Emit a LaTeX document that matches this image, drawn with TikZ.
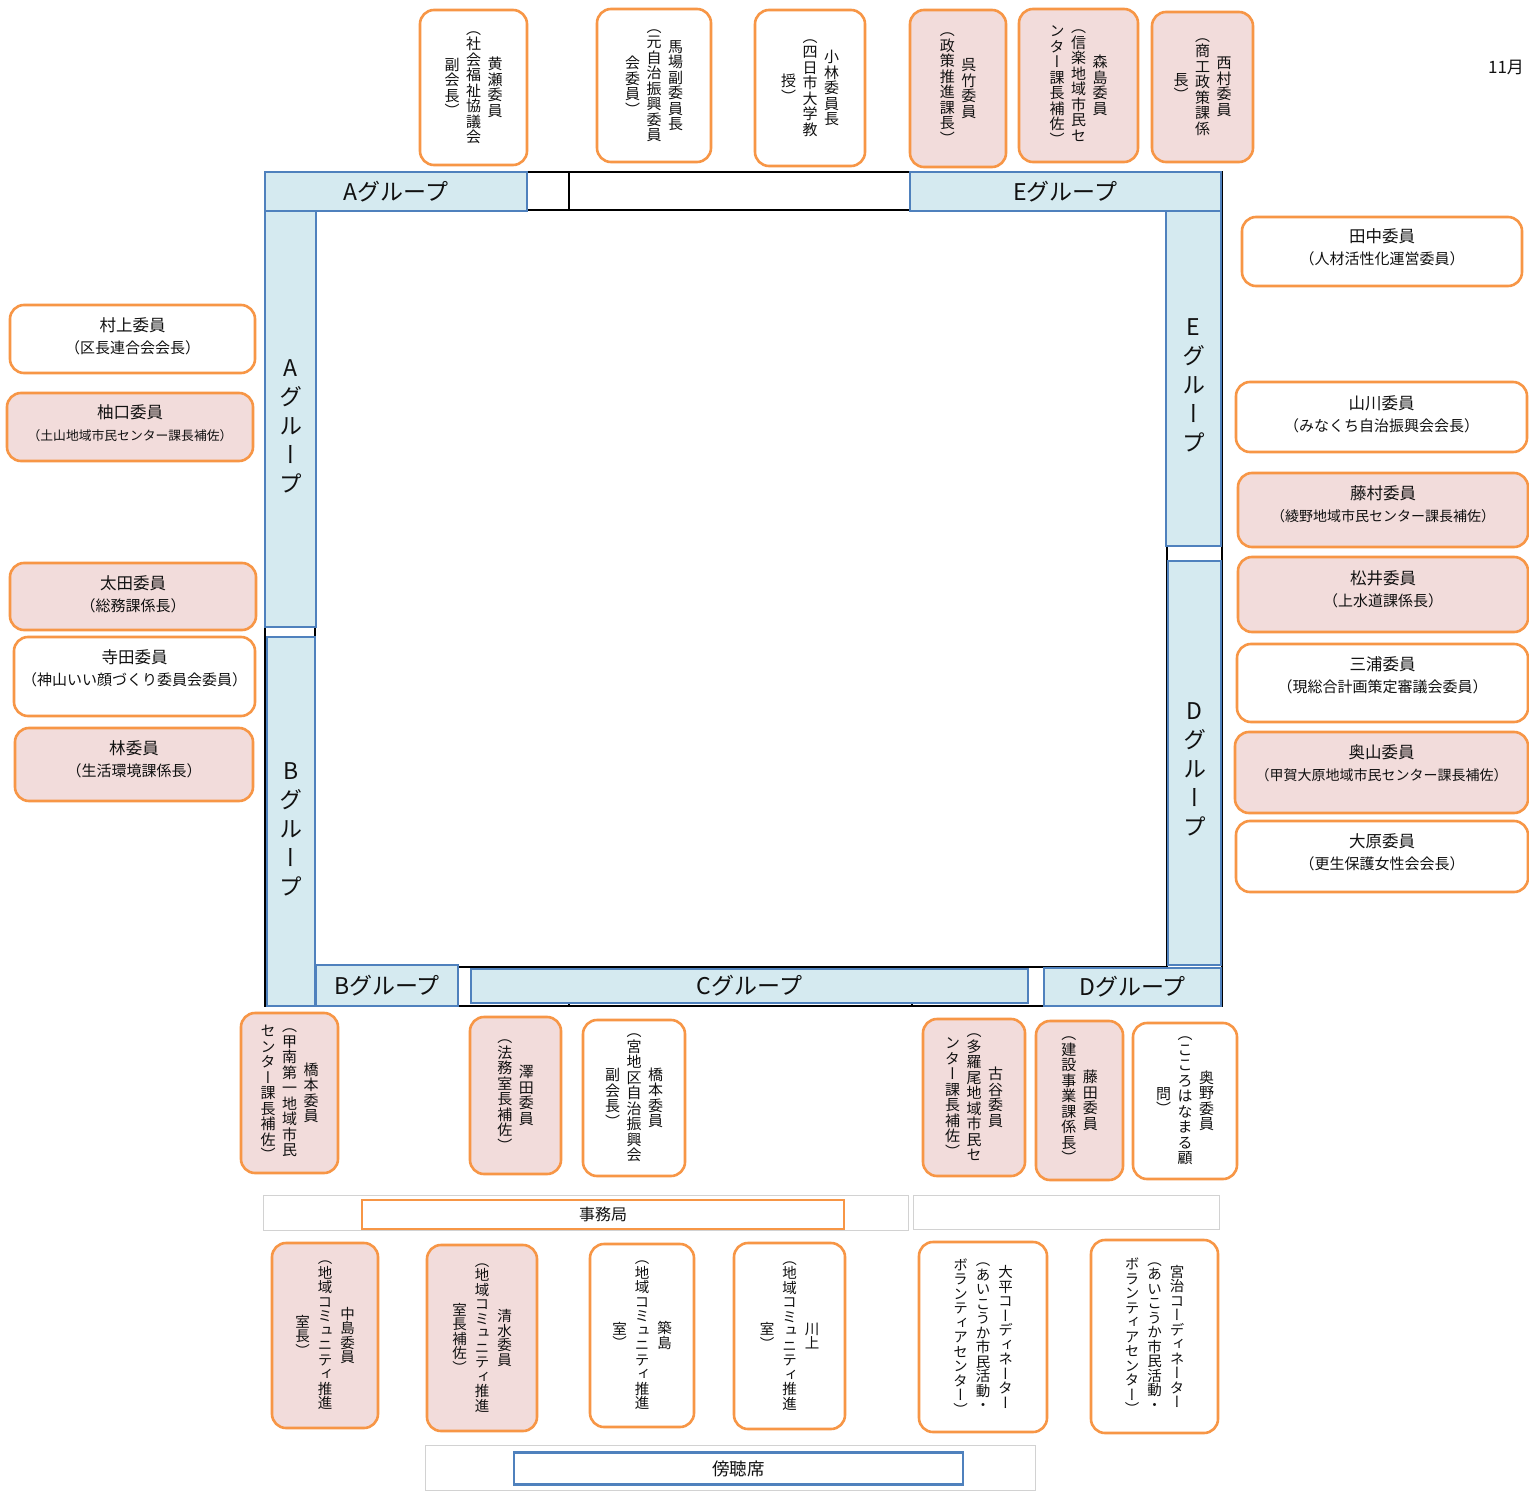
\documentclass[tikz,border=0pt]{standalone}
\usepackage{fontspec}
\setmainfont{Noto Sans CJK JP}
\newfontfamily\vjp[RawFeature=+vert]{Noto Sans CJK JP}
\definecolor{orng}{HTML}{F79646}
\definecolor{pnk}{HTML}{F2DCDB}
\definecolor{lblu}{HTML}{D5EAF0}
\definecolor{blu}{HTML}{4F81BD}
\definecolor{txtc}{HTML}{111111}
\ExplSyntaxOn
\dim_new:N \l_vt_pitch_dim
\dim_new:N \l_vt_colw_dim
\cs_new_protected:Npn \vt_col:n #1
  {
    \hbox_to_wd:nn { \l_vt_colw_dim }
      {
        \hss
        $\vcenter{
          \baselineskip=\l_vt_pitch_dim
          \lineskiplimit=-\maxdimen
          \lineskip=0pt
          \tl_map_inline:nn {#1} { \hbox_to_wd:nn {1em} { \hss ##1 \hss } }
        }$
        \hss
      }
  }
\NewDocumentCommand \vtext { m m m m }
  {
    \group_begin:
    \vjp \fontsize{#1}{#2}\selectfont
    \dim_set:Nn \l_vt_pitch_dim {#2}
    \dim_set:Nn \l_vt_colw_dim {#3}
    \seq_set_from_clist:Nn \l_tmpa_seq {#4}
    \seq_reverse:N \l_tmpa_seq
    \hbox:n { \seq_map_inline:Nn \l_tmpa_seq { \vt_col:n {##1} } }
    \group_end:
  }
\ExplSyntaxOff
\newcommand\htwo[3][15]{{\fontsize{16.5}{22}\selectfont #2}\\{\fontsize{#1}{22}\selectfont #3}}
\newcommand\vtx[1]{\vtext{15pt}{15.5pt}{21.5pt}{#1}}
\newcommand\vbt[1]{\vtext{14.5pt}{14.5pt}{22.5pt}{#1}}
\newcommand\vgr[1]{\vtext{23pt}{29pt}{30pt}{#1}}
\newcommand\mem[8]{%
  \node[mbox,#1,minimum width=#5,minimum height=#6] (#2) at (#3,#4) {};
  \node[txt] (#2-t) at (#3,#4+#7) {#8};
}
\begin{document}
\begin{tikzpicture}[x=1pt,y=-1pt,
  mbox/.style={draw=orng,line width=2.6pt,rounded corners=14pt,fill=white,inner sep=0pt},
  pinkf/.style={fill=pnk},
  txt/.style={inner sep=0pt,text=txtc,align=center,font=\fontsize{15}{22}\selectfont},
  gbox/.style={draw=blu,fill=lblu,line width=2.2pt,inner sep=0pt,text=txtc,font=\fontsize{23}{23}\selectfont},
  tbl/.style={draw=black,line width=1.4pt,inner sep=0pt},
  grect/.style={draw=gray!35,line width=0.8pt,inner sep=0pt},
]
\fill[white] (0,0) rectangle (1529,1495);
\useasboundingbox (0,0) rectangle (1529,1495);

% table frame
\node[tbl,minimum width=957,minimum height=834] (tblout) at (743.5,589) {};
\node[tbl,minimum width=852,minimum height=757] (tblin) at (741,588.5) {};
\draw[tbl] (569,172) -- (569,210);
\draw[tbl] (569,1002) -- (569,1006);
\draw[tbl] (912,1002) -- (912,1006);

% group boxes
\node[gbox,minimum width=262,minimum height=39] (gAt) at (396,191.5) {Aグループ};
\node[gbox,minimum width=311,minimum height=39] (gEt) at (1065.5,191.5) {Eグループ};
\node[gbox,minimum width=51,minimum height=416] (gAl) at (290.5,419) {};
\node[txt] (gAl-t) at (290.5,426) {\vgr{Aグループ}};
\node[gbox,minimum width=48,minimum height=369] (gBl) at (291,821.5) {};
\node[txt] (gBl-t) at (291,829) {\vgr{Bグループ}};
\node[gbox,minimum width=55,minimum height=335] (gEr) at (1193.5,378.5) {};
\node[txt] (gEr-t) at (1193.5,385) {\vgr{Eグループ}};
\node[gbox,minimum width=53,minimum height=404] (gDr) at (1194.5,763) {};
\node[txt] (gDr-t) at (1194.5,769) {\vgr{Dグループ}};
\node[gbox,minimum width=142,minimum height=41] (gBb) at (387,985.5) {Bグループ};
\node[gbox,minimum width=557,minimum height=34] (gCb) at (749.5,986) {Cグループ};
\node[gbox,minimum width=177,minimum height=38] (gDb) at (1132.5,987) {Dグループ};

% top members
\mem{}{kise}{473.5}{87.5}{107}{155}{0}{\vtx{黄瀬委員,（社会福祉協議会,副会長）}}
\mem{}{baba}{654}{85.5}{114}{153}{0}{\vtx{馬場副委員長,（元自治振興委員,会委員）}}
\mem{}{koba}{810}{88}{110}{156}{0}{\vtx{小林委員長,（四日市大学教,授）}}
\mem{pinkf}{kure}{958}{88.5}{96}{157}{0}{\vtx{呉竹委員,（政策推進課長）}}
\mem{pinkf}{mori}{1078.5}{85.5}{119}{153}{0}{\vtx{森島委員,（信楽地域市民セ,ンター課長補佐）}}
\mem{pinkf}{nishi}{1202.5}{87}{101}{150}{0}{\vtx{西村委員,（商工政策課係,長）}}

% bottom members
\mem{pinkf}{hashiA}{289.5}{1093}{97}{160}{0}{\vtx{橋本委員,（甲南第一地域市民,センター課長補佐）}}
\mem{pinkf}{sawa}{515.5}{1095.5}{91}{157}{0}{\vtx{澤田委員,（法務室長補佐）}}
\mem{}{hashiB}{634}{1098}{102}{156}{0}{\vtx{橋本委員,（宮地区自治振興会,副会長）}}
\mem{pinkf}{furu}{974}{1097.5}{102}{157}{0}{\vtx{古谷委員,（多羅尾地域市民セ,ンター課長補佐）}}
\mem{pinkf}{fujita}{1079.5}{1100.5}{87}{159}{0}{\vtx{藤田委員,（建設事業課係長）}}
\mem{}{okuno}{1185}{1101}{104}{156}{0}{\vtx{奥野委員,（こころはなまる顧,問）}}

% secretariat
\node[grect,minimum width=645,minimum height=35] (jimuL) at (585.5,1212.5) {};
\node[grect,minimum width=306,minimum height=34] (jimuR) at (1066,1212) {};
\node[draw=orng,line width=2pt,fill=white,minimum width=482,minimum height=29,inner sep=0pt,text=txtc,font=\fontsize{16}{16}\selectfont] (jimu) at (603,1214) {事務局};

% bottom row
\mem{pinkf}{naka}{325}{1335.5}{106}{185}{0}{\vbt{中島委員,（地域コミュニティ推進,室長）}}
\mem{pinkf}{shimizu}{482}{1338}{110}{186}{0}{\vbt{清水委員,（地域コミュニティ推進,室長補佐）}}
\mem{}{tsuki}{642}{1335.5}{104}{183}{0}{\vbt{築島,（地域コミュニティ推進,室）}}
\mem{}{kawa}{789.5}{1336}{111}{186}{0}{\vbt{川上,（地域コミュニティ推進,室）}}
\mem{}{ohira}{983}{1337}{128}{190}{0}{\vbt{大平コーディネーター,（あいこうか市民活動・,ボランティアセンター）}}
\mem{}{miyaji}{1154.5}{1336.5}{127}{193}{0}{\vbt{宮治コーディネーター,（あいこうか市民活動・,ボランティアセンター）}}

% audience
\node[grect,minimum width=610,minimum height=45] (bochoA) at (730,1467.5) {};
\node[draw=blu,line width=2.4pt,fill=white,minimum width=449,minimum height=32,inner sep=0pt,text=txtc,font=\fontsize{17.5}{17.5}\selectfont] (bocho) at (738.5,1468.5) {傍聴席};

% left members
\mem{}{mura}{132.5}{339}{245}{68}{-3}{\htwo{村上委員}{（区長連合会会長）}}
\mem{pinkf}{yugu}{130}{427}{246}{68}{-3.5}{\htwo[12.8]{柚口委員}{（土山地域市民センター課長補佐）}}
\mem{pinkf}{ota}{133}{596.5}{246}{67}{-2.5}{\htwo{太田委員}{（総務課係長）}}
\mem{}{tera}{134.5}{676.5}{241}{79}{-8.5}{\htwo{寺田委員}{（神山いい顔づくり委員会委員）}}
\mem{pinkf}{hayashi}{134}{764.5}{238}{73}{-5}{\htwo{林委員}{（生活環境課係長）}}

% right members
\mem{}{tanaka}{1382}{251.5}{280}{69}{-4}{\htwo{田中委員}{（人材活性化運営委員）}}
\mem{}{yama}{1381.5}{417}{291}{70}{-3}{\htwo{山川委員}{（みなくち自治振興会会長）}}
\mem{pinkf}{fujimura}{1383}{510}{290}{74}{-5.5}{\htwo[14]{藤村委員}{（綾野地域市民センター課長補佐）}}
\mem{pinkf}{matsui}{1383}{594.5}{290}{75}{-5.5}{\htwo{松井委員}{（上水道課係長）}}
\mem{}{miura}{1382.5}{683}{291}{78}{-8}{\htwo{三浦委員}{（現総合計画策定審議会委員）}}
\mem{pinkf}{okuyama}{1381.5}{772.5}{293}{81}{-9}{\htwo[14]{奥山委員}{（甲賀大原地域市民センター課長補佐）}}
\mem{}{ohara}{1382}{856.5}{292}{71}{-4}{\htwo{大原委員}{（更生保護女性会会長）}}

\node[txt,font=\fontsize{17}{17}\selectfont] (month) at (1506,68) {11月};
\end{tikzpicture}
\end{document}
